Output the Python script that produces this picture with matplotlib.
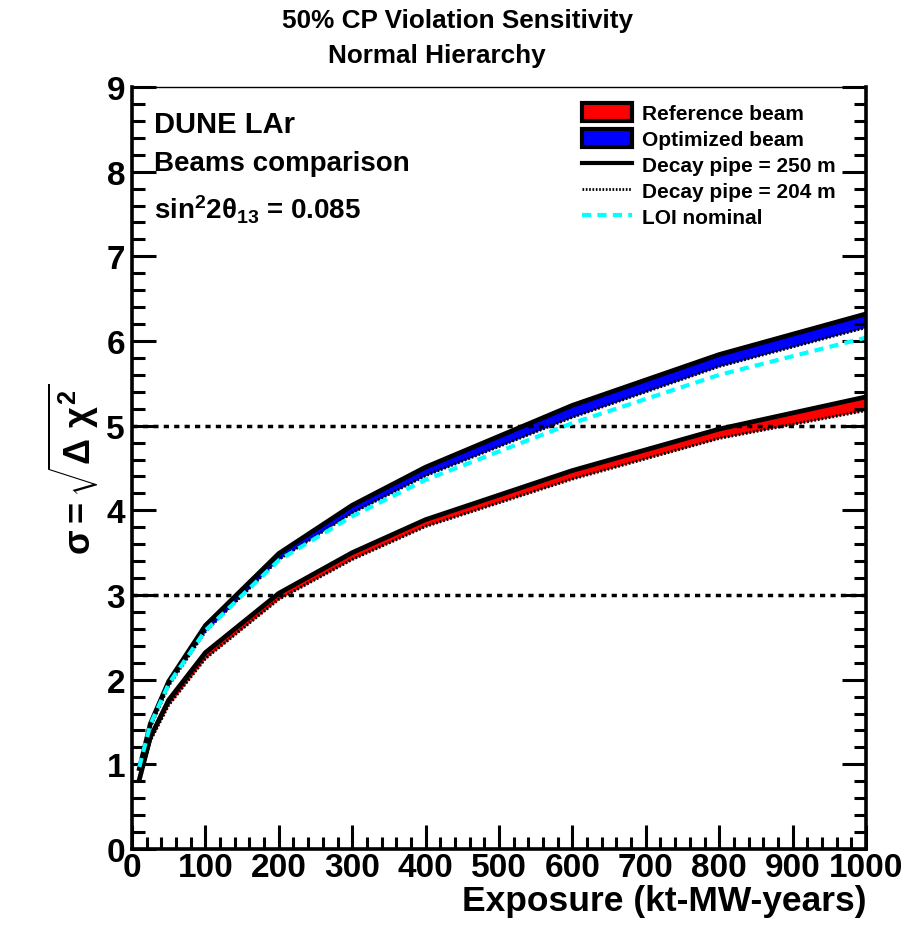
import matplotlib.pyplot as plt
from matplotlib.patches import Patch
from matplotlib.lines import Line2D
from matplotlib.ticker import MultipleLocator

plt.rcParams['font.family'] = ['Liberation Sans', 'DejaVu Sans']
plt.rcParams['font.weight'] = 'bold'
plt.rcParams['mathtext.fontset'] = 'custom'
plt.rcParams['mathtext.rm'] = 'Liberation Sans:bold'
plt.rcParams['mathtext.it'] = 'Liberation Sans:bold'
plt.rcParams['mathtext.bf'] = 'Liberation Sans:bold'

# Exposure points (kt-MW-years)
exposure = [10, 25, 50, 100, 200, 300, 400, 600, 800, 1000]

# Optimized beam, decay pipe 250 m / 204 m
opt_250 = [0.95, 1.48, 1.98, 2.64, 3.49, 4.06, 4.51, 5.24, 5.84, 6.32]
opt_204 = [0.93, 1.44, 1.93, 2.57, 3.42, 3.97, 4.41, 5.10, 5.70, 6.16]

# Reference beam, decay pipe 250 m / 204 m
ref_250 = [0.82, 1.32, 1.76, 2.32, 3.02, 3.50, 3.89, 4.47, 4.96, 5.34]
ref_204 = [0.80, 1.28, 1.70, 2.25, 2.95, 3.42, 3.81, 4.37, 4.85, 5.18]

# LOI nominal
loi = [0.97, 1.47, 1.95, 2.58, 3.41, 3.93, 4.36, 5.03, 5.60, 6.04]

fig = plt.figure(figsize=(9.09, 9.29), dpi=100)
ax = fig.add_axes([0.1452, 0.0850, 0.8075, 0.8203])

ax.fill_between(exposure, ref_204, ref_250, color='red', lw=0)
ax.fill_between(exposure, opt_204, opt_250, color='blue', lw=0)

ax.plot(exposure, ref_250, color='black', lw=3.4)
ax.plot(exposure, opt_250, color='black', lw=3.4)
ax.plot(exposure, ref_204, color='black', lw=2.2, ls=(0, (0.6, 0.6)))
ax.plot(exposure, opt_204, color='black', lw=2.2, ls=(0, (0.6, 0.6)))
ax.plot(exposure, loi, color='cyan', lw=3, ls=(0, (2.2, 1.5)))

# 3 and 5 sigma reference lines
for lvl in (3, 5):
    ax.axhline(lvl, color='black', lw=2.5, ls=(0, (1.5, 1.5)), zorder=1)

ax.set_xlim(0, 1000)
ax.set_ylim(0, 9)
ax.xaxis.set_major_locator(MultipleLocator(100))
ax.xaxis.set_minor_locator(MultipleLocator(20))
ax.yaxis.set_major_locator(MultipleLocator(1))
ax.yaxis.set_minor_locator(MultipleLocator(0.2))
ax.tick_params(which='both', direction='in', top=False, right=True, width=2.2)
ax.tick_params(which='major', length=17, labelsize=24, pad=2)
ax.tick_params(which='minor', length=9)
ax.tick_params(axis='y', which='major', pad=5)
for s in ('left', 'right', 'bottom'):
    ax.spines[s].set_linewidth(2.6)
ax.spines['top'].set_linewidth(1.0)
for lab in ax.get_xticklabels() + ax.get_yticklabels():
    lab.set_fontweight('bold')

ax.set_xlabel('Exposure (kt-MW-years)', fontsize=25.5, fontweight='bold', loc='right', labelpad=1)
ax.set_ylabel(r'$\sigma = \sqrt{\Delta\ \chi^2}$', fontsize=26, labelpad=4)

fig.text(0.503, 0.977, '50% CP Violation Sensitivity', ha='center', va='center',
         fontsize=18.8, fontweight='bold')
fig.text(0.48, 0.94, 'Normal Hierarchy', ha='center', va='center',
         fontsize=18.8, fontweight='bold')

ax.text(0.03, 0.951, 'DUNE LAr', transform=ax.transAxes, fontsize=21, fontweight='bold', va='center')
ax.text(0.03, 0.900, 'Beams comparison', transform=ax.transAxes, fontsize=20, fontweight='bold', va='center')
ax.text(0.03, 0.840, r'sin$^{2}$2$\theta_{13}$ = 0.085', transform=ax.transAxes,
        fontsize=20, fontweight='bold', va='center')

handles = [
    Patch(facecolor='red', edgecolor='black', lw=3),
    Patch(facecolor='blue', edgecolor='black', lw=3),
    Line2D([], [], color='black', lw=3),
    Line2D([], [], color='black', lw=2, ls=(0, (0.6, 0.6))),
    Line2D([], [], color='cyan', lw=3, ls=(0, (2.2, 1.5))),
]
labels = ['Reference beam', 'Optimized beam', 'Decay pipe = 250 m',
          'Decay pipe = 204 m', 'LOI nominal']
leg = ax.legend(handles, labels, loc='upper left', bbox_to_anchor=(0.613, 0.979),
                frameon=False, fontsize=15, handlelength=2.4, handleheight=0.95,
                labelspacing=0.28, handletextpad=0.5, borderpad=0, borderaxespad=0)
for t in leg.get_texts():
    t.set_fontweight('bold')

fig.savefig('out.png', dpi=100)
